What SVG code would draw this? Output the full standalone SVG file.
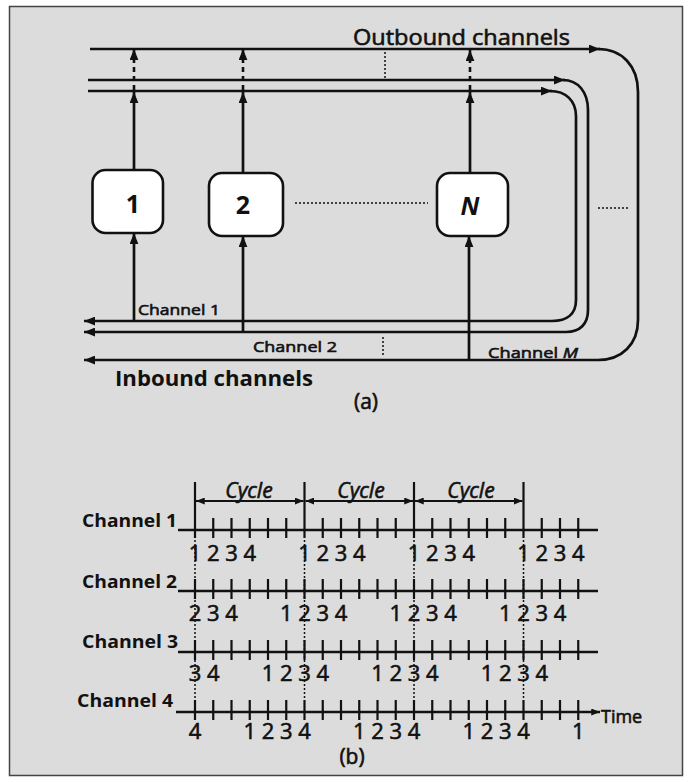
<svg xmlns="http://www.w3.org/2000/svg" xmlns:xlink="http://www.w3.org/1999/xlink" width="688" height="782" viewBox="0 0 688 782">
<style>
  .ln{fill:none;stroke:#111;stroke-width:2.7}
  .tk{fill:none;stroke:#111;stroke-width:2.2}
  .ds{fill:none;stroke:#111;stroke-width:2.6;stroke-dasharray:5 4}
  .dt{fill:none;stroke:#111;stroke-width:1.5;stroke-dasharray:2 2}
  .box{fill:#fff;stroke:#111;stroke-width:2.6}
  .t{font-family:"Open Sans","Noto Sans",sans-serif;fill:#111}
  .w{stroke:#111;stroke-width:0.6}
  .lab{font-size:15px}
  .big{font-size:22px}
  .dg{font-size:22px;text-anchor:middle}
  .ch{font-size:18px;font-weight:700}
  .cy{font-size:21px;font-style:italic;text-anchor:middle}
  .nd{font-size:25px;font-weight:700;text-anchor:middle}
</style>
<defs>
  <marker id="ah" viewBox="0 0 10 8" refX="10" refY="4" markerWidth="11" markerHeight="9" orient="auto" markerUnits="userSpaceOnUse">
    <path d="M0 0L10 4L0 8z" fill="#111"/>
  </marker>
  <marker id="sh" viewBox="0 0 10 8" refX="10" refY="4" markerWidth="9" markerHeight="7" orient="auto-start-reverse" markerUnits="userSpaceOnUse">
    <path d="M0 0L10 4L0 8z" fill="#111"/>
  </marker>
  <path id="ticks" class="tk" d="M195 0v20M213.25 0v20M231.5 0v20M249.75 0v20M268 0v20M286.25 0v20M304.5 0v20M322.75 0v20M341 0v20M359.25 0v20M377.5 0v20M395.75 0v20M414 0v20M432.25 0v20M450.5 0v20M468.75 0v20M487 0v20M505.25 0v20M523.5 0v20M541.75 0v20M560 0v20M578.25 0v20"/>
</defs>
<rect x="0" y="0" width="688" height="782" fill="#fff"/>
<rect x="9.5" y="6.5" width="673" height="769" fill="#dcdcdc" stroke="#444" stroke-width="1.5"/>

<g id="connectors">
  <!-- outbound / inbound channel loops -->
  <path class="ln" d="M90 49H600" marker-end="url(#ah)"/>
  <path class="ln" d="M598 49C622 49 638 66 638 92V320C638 344 622 360 598 360H84" marker-end="url(#ah)"/>
  <path class="ln" d="M88 80H565" marker-end="url(#ah)"/>
  <path class="ln" d="M563 80C578 80 588 92 588 110V310C588 324 580 332 566 332H84" marker-end="url(#ah)"/>
  <path class="ln" d="M88 91H552" marker-end="url(#ah)"/>
  <path class="ln" d="M550 91C566 91 576 101 576 116V300C576 314 567 321 552 321H84" marker-end="url(#ah)"/>
  <!-- node outputs -->
  <path class="ln" d="M134 170V92" marker-end="url(#ah)"/>
  <path class="ds" d="M134 90V49" marker-end="url(#ah)"/>
  <path class="ln" d="M243 173V92" marker-end="url(#ah)"/>
  <path class="ds" d="M243 90V49" marker-end="url(#ah)"/>
  <path class="ln" d="M470 173V92" marker-end="url(#ah)"/>
  <path class="ds" d="M470 90V50" marker-end="url(#ah)"/>
  <!-- node inputs -->
  <path class="ln" d="M134 321V233" marker-end="url(#ah)"/>
  <path class="ln" d="M243 332V236" marker-end="url(#ah)"/>
  <path class="ln" d="M469 360V236" marker-end="url(#ah)"/>
  <!-- ellipsis dots -->
  <path class="dt" d="M295 203H428M598 208H630M385 52V79M383 337V355"/>
</g>

<g id="node-1">
  <rect class="box" x="92.5" y="170" width="70.5" height="63" rx="13"/>
  <text class="t nd" x="133" y="213">1</text>
</g>
<g id="node-2">
  <rect class="box" x="209" y="173" width="74" height="63" rx="13"/>
  <text class="t nd" x="243" y="214">2</text>
</g>
<g id="node-N">
  <rect class="box" x="437" y="173" width="71" height="63" rx="13"/>
  <text class="t nd" x="470" y="215" font-style="italic">N</text>
</g>

<g id="labels-a">
  <text class="t w big" x="353" y="45" textLength="217" lengthAdjust="spacingAndGlyphs">Outbound channels</text>
  <text class="t big" x="115" y="386" font-weight="700" textLength="198" lengthAdjust="spacingAndGlyphs">Inbound channels</text>
  <text class="t w" x="366" y="409" font-size="21" text-anchor="middle">(a)</text>
  <text class="t w lab" x="138" y="315" textLength="82" lengthAdjust="spacingAndGlyphs">Channel 1</text>
  <text class="t w lab" x="253" y="352" textLength="84" lengthAdjust="spacingAndGlyphs">Channel 2</text>
  <text class="t w lab" x="488" y="358" textLength="90" lengthAdjust="spacingAndGlyphs">Channel <tspan font-style="italic">M</tspan></text>
</g>

<g id="timeline">
  <!-- channel lines -->
  <path class="ln" d="M178 530H598M178 591H598M178 652H598"/>
  <path class="ln" d="M176 712H600" marker-end="url(#sh)"/>
  <use xlink:href="#ticks" y="518"/>
  <use xlink:href="#ticks" y="579"/>
  <use xlink:href="#ticks" y="640"/>
  <use xlink:href="#ticks" y="700"/>
  <!-- cycle brackets -->
  <path class="tk" d="M195 482V518M304.5 482V518M414 482V518M523.5 482V518"/>
  <path class="tk" d="M196 501H303.5" marker-start="url(#sh)" marker-end="url(#sh)"/>
  <path class="tk" d="M305.5 501H413" marker-start="url(#sh)" marker-end="url(#sh)"/>
  <path class="tk" d="M415 501H522.5" marker-start="url(#sh)" marker-end="url(#sh)"/>
  <!-- cycle boundary dotted lines -->
  <path class="dt" d="M195 540V700M304.5 540V700M414 540V700M523.5 540V700"/>
</g>

<g id="labels-b">
  <text class="t w cy" x="249" y="498">Cycle</text>
  <text class="t w cy" x="361" y="498">Cycle</text>
  <text class="t w cy" x="471" y="498">Cycle</text>
  <text class="t ch" x="82" y="527" textLength="95" lengthAdjust="spacingAndGlyphs">Channel 1</text>
  <text class="t ch" x="82" y="588" textLength="95" lengthAdjust="spacingAndGlyphs">Channel 2</text>
  <text class="t ch" x="82" y="648" textLength="96" lengthAdjust="spacingAndGlyphs">Channel 3</text>
  <text class="t ch" x="77" y="707" textLength="96" lengthAdjust="spacingAndGlyphs">Channel 4</text>
  <text class="t w" x="601" y="723" font-size="18">Time</text>
  <text class="t w" x="352" y="764" font-size="21" text-anchor="middle">(b)</text>
  <!-- channel 1 slots -->
  <g class="t w dg">
    <text x="195" y="561">1</text><text x="213.25" y="561">2</text><text x="231.5" y="561">3</text><text x="249.75" y="561">4</text>
    <text x="304.5" y="561">1</text><text x="322.75" y="561">2</text><text x="341" y="561">3</text><text x="359.25" y="561">4</text>
    <text x="414" y="561">1</text><text x="432.25" y="561">2</text><text x="450.5" y="561">3</text><text x="468.75" y="561">4</text>
    <text x="523.5" y="561">1</text><text x="541.75" y="561">2</text><text x="560" y="561">3</text><text x="578.25" y="561">4</text>
  </g>
  <!-- channel 2 slots -->
  <g class="t w dg">
    <text x="195" y="621">2</text><text x="213.25" y="621">3</text><text x="231.5" y="621">4</text>
    <text x="286.25" y="621">1</text><text x="304.5" y="621">2</text><text x="322.75" y="621">3</text><text x="341" y="621">4</text>
    <text x="395.75" y="621">1</text><text x="414" y="621">2</text><text x="432.25" y="621">3</text><text x="450.5" y="621">4</text>
    <text x="505.25" y="621">1</text><text x="523.5" y="621">2</text><text x="541.75" y="621">3</text><text x="560" y="621">4</text>
  </g>
  <!-- channel 3 slots -->
  <g class="t w dg">
    <text x="195" y="681">3</text><text x="213.25" y="681">4</text>
    <text x="268" y="681">1</text><text x="286.25" y="681">2</text><text x="304.5" y="681">3</text><text x="322.75" y="681">4</text>
    <text x="377.5" y="681">1</text><text x="395.75" y="681">2</text><text x="414" y="681">3</text><text x="432.25" y="681">4</text>
    <text x="487" y="681">1</text><text x="505.25" y="681">2</text><text x="523.5" y="681">3</text><text x="541.75" y="681">4</text>
  </g>
  <!-- channel 4 slots -->
  <g class="t w dg">
    <text x="195" y="739">4</text>
    <text x="249.75" y="739">1</text><text x="268" y="739">2</text><text x="286.25" y="739">3</text><text x="304.5" y="739">4</text>
    <text x="359.25" y="739">1</text><text x="377.5" y="739">2</text><text x="395.75" y="739">3</text><text x="414" y="739">4</text>
    <text x="468.75" y="739">1</text><text x="487" y="739">2</text><text x="505.25" y="739">3</text><text x="523.5" y="739">4</text>
    <text x="578.25" y="739">1</text>
  </g>
</g>
</svg>
